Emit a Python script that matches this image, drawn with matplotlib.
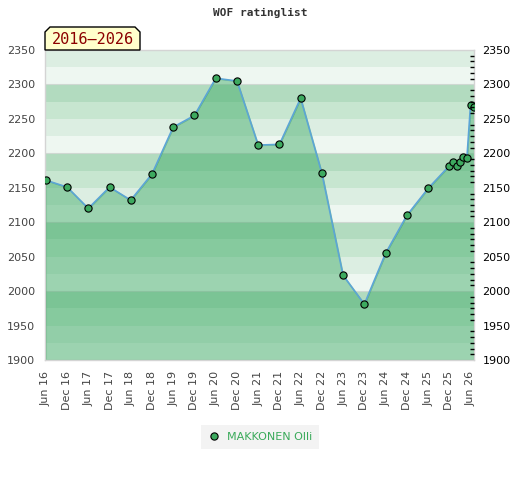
import matplotlib
matplotlib.use('Agg')
import matplotlib.pyplot as plt
import matplotlib.dates as mdates
from matplotlib.patches import Polygon
from matplotlib.ticker import MultipleLocator
from datetime import date

# rating list dates and ratings
dates = [date(2016, 6, 1), date(2016, 12, 1), date(2017, 6, 1), date(2017, 12, 1),
         date(2018, 6, 1), date(2018, 12, 1), date(2019, 6, 1), date(2019, 12, 1),
         date(2020, 6, 1), date(2020, 12, 1), date(2021, 6, 1), date(2021, 12, 1),
         date(2022, 6, 1), date(2022, 12, 1), date(2023, 6, 1), date(2023, 12, 1),
         date(2024, 6, 1), date(2024, 12, 1), date(2025, 6, 1), date(2025, 12, 1),
         date(2026, 1, 1), date(2026, 2, 1), date(2026, 3, 1), date(2026, 4, 1),
         date(2026, 5, 1), date(2026, 6, 1), date(2026, 7, 1)]
ratings = [2161, 2151, 2120, 2151, 2132, 2170, 2238, 2255, 2309, 2305,
           2212, 2213, 2280, 2171, 2023, 1981, 2055, 2110, 2149, 2182,
           2187, 2182, 2187, 2195, 2193, 2270, 2267]
player = 'MAKKONEN Olli'
period = '2016\u20132026'
ymin, ymax = 1900, 2350

band_colors = ['#b2dbbf', '#c7e6d0', '#dceee2', '#eef7f1']

fig = plt.figure(figsize=(5.2, 4.8), dpi=100)
ax = fig.add_axes([45 / 520, 1 - 360 / 480, 429 / 520, 310 / 480])

# striped background, 25 points per band
lo = ymin
while lo < ymax:
    idx = int((2400 - (lo + 25)) / 25) % 4
    ax.axhspan(lo, lo + 25, color=band_colors[idx], lw=0, zorder=0)
    lo += 25
for g in range(ymin + 100, ymax, 100):
    ax.axhline(g, color='#cfd8d2', lw=0.8, zorder=0.5)

ax.fill_between(dates, ratings, ymin, facecolor=(56 / 255, 168 / 255, 98 / 255),
                alpha=0.45, edgecolor='#2f9a55', lw=1, zorder=1)
ax.plot(dates, ratings, color='#5ca5d6', lw=1.2, zorder=2)
ax.plot(dates, ratings, 'o', color='#3daa5f', mec='black', mew=0.8, ms=5.2,
        zorder=3, label=player)

ax.set_xlim(date(2016, 5, 25), date(2026, 7, 1))
ax.set_ylim(ymin, ymax)

ax.xaxis.set_major_locator(mdates.MonthLocator(bymonth=[6, 12]))
ax.xaxis.set_major_formatter(mdates.DateFormatter('%b %y'))
ax.tick_params(axis='x', rotation=90, length=0, labelsize=8, labelcolor='#444444', pad=8)
ax.yaxis.set_major_locator(MultipleLocator(50))
ax.tick_params(axis='y', length=0, labelsize=8, labelcolor='#444444', pad=7)

for s in ax.spines.values():
    s.set_color('#d4d4d4')
    s.set_linewidth(1)

ax2 = ax.twinx()
ax2.set_ylim(ymin, ymax)
ax2.yaxis.set_major_locator(MultipleLocator(50))
ax2.yaxis.set_minor_locator(MultipleLocator(50 / 6))
ax2.tick_params(axis='y', which='major', length=0, labelsize=8, labelcolor='black', pad=6)
ax2.tick_params(axis='y', which='minor', direction='in', length=3, color='black', width=1)
for s in ax2.spines.values():
    s.set_visible(False)

fig.text(0.5, 1 - 13 / 480, 'WOF ratinglist', ha='center', va='center',
         family='DejaVu Sans Mono', weight='bold', size=8, color='#333333')

# period tag above the plot, chamfered top corners
x0, x1, y0, y1, c = 45, 140, 50, 27, 5
pts = [(x0, y0), (x0, y1 + c), (x0 + c, y1), (x1 - c, y1), (x1, y1 + c), (x1, y0)]
pts = [(px / 520, 1 - py / 480) for px, py in pts]
fig.patches.append(Polygon(pts, closed=True, facecolor='#ffffcc', edgecolor='black',
                           lw=1, transform=fig.transFigure))
fig.text((x0 + x1) / 2 / 520, 1 - 39.5 / 480, period, ha='center', va='center',
         family='DejaVu Sans Mono', size=11, color='#8b0000')

leg = ax.legend(loc='center', bbox_to_anchor=(260 / 520, 1 - 437 / 480),
                bbox_transform=fig.transFigure, frameon=True, fancybox=False,
                fontsize=8, handletextpad=0.6, borderpad=0.6, handlelength=1.2)
leg.get_frame().set_facecolor('#f0f0f0')
leg.get_frame().set_edgecolor('none')
for t in leg.get_texts():
    t.set_color('#3aaa5a')

fig.savefig('out.png', dpi=100)
